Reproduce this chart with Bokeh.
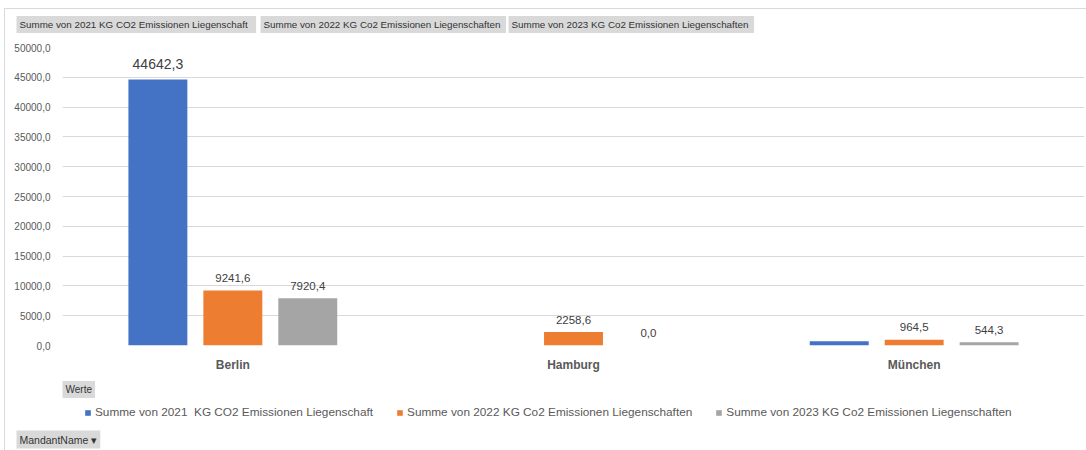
import numpy as np
from bokeh.plotting import figure
from bokeh.layouts import column
from bokeh.models import (ColumnDataSource, FactorRange, Range1d, LabelSet, Label, Legend,
                          LegendItem, SingleIntervalTicker, CustomJSTickFormatter)
from bokeh.core.properties import value
from bokeh.transform import dodge
from bokeh.embed import file_html
from bokeh.resources import INLINE

# ---------------- data ----------------
cities = ["Berlin", "Hamburg", "München"]
series_names = ["Summe von 2021  KG CO2 Emissionen Liegenschaft",
                "Summe von 2022 KG Co2 Emissionen Liegenschaften",
                "Summe von 2023 KG Co2 Emissionen Liegenschaften"]
field_buttons = ["Summe  von 2021  KG CO2 Emissionen Liegenschaft",
                 "Summe  von 2022 KG Co2 Emissionen Liegenschaften",
                 "Summe  von 2023 KG Co2 Emissionen Liegenschaften"]
v2021 = [44642.3, np.nan, 700.0]
v2022 = [9241.6, 2258.6, 964.5]
v2023 = [7920.4, 0.0, 544.3]
show_label_2021 = [True, False, False]
y_max = 50000
y_step = 5000

# ---------------- styling ----------------
colors = ["#4472C4", "#ED7D31", "#A5A5A5"]
FONT = "Liberation Sans"
TXT = "#595959"
LBL = "#404040"
BTN_BG = "#d9d9d9"
BTN_TXT = "#333333"

def fmt(v):
    return f"{v:.1f}".replace(".", ",")

l2021 = [fmt(v) if s else "" for v, s in zip(v2021, show_label_2021)]
l2022 = [fmt(v) for v in v2022]
l2023 = [fmt(v) for v in v2023]

src = ColumnDataSource(data=dict(
    city=cities,
    v2021=np.array(v2021, dtype=float),
    v2022=np.array(v2022, dtype=float),
    v2023=np.array(v2023, dtype=float),
    l2021=l2021, l2022=l2022, l2023=l2023,
))

# layout geometry (canvas px); content starts after 4px/8px margin + 1px border
W_IN = 1081
OX, OY = 5, 9
TOP_H = 31
MAIN_H = 335
BOT_H = 450 - OY - TOP_H - MAIN_H
FL, FT, FR, FB = 62, 47, 1084, 345  # frame edges in canvas px
main_top = OY + TOP_H
bot_top = main_top + MAIN_H

# ---------------- top strip: field buttons ----------------
top = figure(width=W_IN, height=TOP_H, x_range=Range1d(0, W_IN), y_range=Range1d(TOP_H, 0),
             min_border=0, x_axis_location=None, y_axis_location=None, frame_align=False,
             output_backend="svg", toolbar_location=None, outline_line_color=None)
top.grid.visible = False
for txt, x0 in zip(field_buttons, [16, 260, 508]):
    top.add_layout(Label(x=x0 - OX, y=24 - OY, text=txt, text_align="left",
                         text_baseline="middle", text_font=FONT, text_font_size="9.8px",
                         text_color=BTN_TXT, background_fill_color=BTN_BG, padding=3))

# ---------------- main chart ----------------
p = figure(width=W_IN, height=MAIN_H, x_range=FactorRange(*cities), y_range=Range1d(0, y_max),
           min_border_left=FL - OX, min_border_right=OX + W_IN - FR,
           min_border_top=FT - main_top, min_border_bottom=main_top + MAIN_H - FB,
           frame_align=False, output_backend="svg", toolbar_location=None,
           outline_line_color=None)
p.x_range.range_padding = 0

offsets = [-0.22, 0.0, 0.22]
bar_w = 0.173
for key, off, col in zip(["v2021", "v2022", "v2023"], offsets, colors):
    p.vbar(x=dodge("city", off, range=p.x_range), top=key, width=bar_w,
           bottom=0, source=src, fill_color=col, line_color=None)

p.add_layout(LabelSet(x=dodge("city", offsets[0], range=p.x_range), y="v2021", text="l2021",
                      source=src, y_offset=15, text_align="center", text_baseline="middle",
                      text_font=value(FONT), text_font_size="14px", text_color=LBL))
for key, lab, off in [("v2022", "l2022", offsets[1]), ("v2023", "l2023", offsets[2])]:
    p.add_layout(LabelSet(x=dodge("city", off, range=p.x_range), y=key, text=lab,
                          source=src, y_offset=12.5, text_align="center", text_baseline="middle",
                          text_font=value(FONT), text_font_size="11.5px", text_color=LBL))

p.yaxis.ticker = SingleIntervalTicker(interval=y_step)
p.yaxis.formatter = CustomJSTickFormatter(code="return tick.toFixed(1).replace('.', ',');")
p.yaxis.axis_line_color = None
p.yaxis.major_tick_line_color = None
p.yaxis.minor_tick_line_color = None
p.yaxis.major_tick_out = 0
p.yaxis.minor_tick_out = 0
p.yaxis.major_label_standoff = 12
p.yaxis.major_label_text_font = FONT
p.yaxis.major_label_text_font_size = "10px"
p.yaxis.major_label_text_color = TXT

p.xaxis.axis_line_color = None
p.xaxis.major_tick_line_color = None
p.xaxis.minor_tick_line_color = None
p.xaxis.major_tick_out = 0
p.xaxis.minor_tick_out = 0
p.xaxis.major_label_standoff = 12
p.xaxis.major_label_text_font = FONT
p.xaxis.major_label_text_font_size = "12px"
p.xaxis.major_label_text_font_style = "bold"
p.xaxis.major_label_text_color = TXT

p.xgrid.grid_line_color = None
p.ygrid.grid_line_color = "#d9d9d9"

# ---------------- bottom strip: "Werte", legend, "MandantName" ----------------
bot = figure(width=W_IN, height=BOT_H, x_range=Range1d(0, W_IN), y_range=Range1d(BOT_H, 0),
             min_border=0, x_axis_location=None, y_axis_location=None, frame_align=False,
             output_backend="svg", toolbar_location=None, outline_line_color=None)
bot.grid.visible = False
# legend keys: one bar renderer per series (no visible bar of its own)
legend_rs = [bot.vbar(x=[np.nan], top=[np.nan], width=1, fill_color=c, line_color=None)
             for c in colors]
legend = Legend(items=[LegendItem(label=n, renderers=[r]) for n, r in zip(series_names, legend_rs)],
                orientation="horizontal", location=(84 - OX, BOT_H - (422 - bot_top)),
                glyph_width=7, glyph_height=7, label_standoff=4, spacing=23, padding=0, margin=0,
                border_line_color=None, background_fill_alpha=0, label_text_font=FONT,
                label_text_font_size="11.8px", label_text_color=TXT, label_height=20)
bot.add_layout(legend)
bot.add_layout(Label(x=62 - OX, y=389 - bot_top, text="Werte", text_align="left",
                     text_baseline="middle", text_font=FONT, text_font_size="10px",
                     text_color=BTN_TXT, background_fill_color=BTN_BG, padding=3))
bot.add_layout(Label(x=16 - OX, y=439 - bot_top, text="MandantName ▾", text_align="left",
                     text_baseline="middle", text_font=FONT, text_font_size="10.5px",
                     text_color=BTN_TXT, background_fill_color=BTN_BG, padding=3))

layout = column(top, p, bot, spacing=0, margin=(8, 0, 0, 4),
                styles={"border-top": "1px solid #d9d9d9", "border-left": "1px solid #d9d9d9"})

open("out.html", "w").write(file_html(layout, INLINE))
